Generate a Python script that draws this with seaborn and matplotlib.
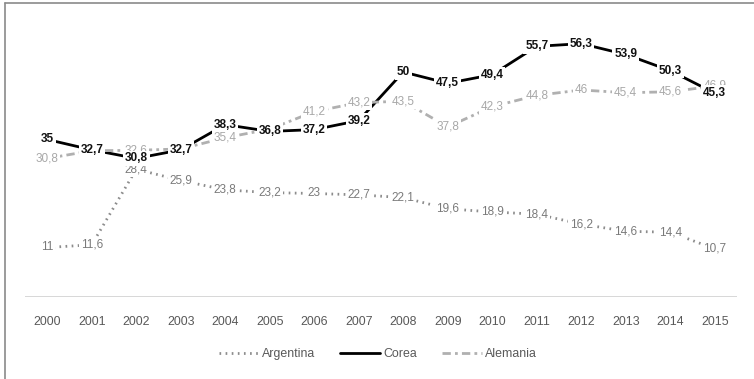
import numpy as np
import pandas as pd
import matplotlib
matplotlib.use("Agg")
import matplotlib.pyplot as plt
import seaborn as sns
from matplotlib.lines import Line2D
from matplotlib import font_manager

years = [2000, 2001, 2002, 2003, 2004, 2005, 2006, 2007, 2008, 2009, 2010, 2011, 2012, 2013, 2014, 2015]
argentina = [11, 11.6, 28.4, 25.9, 23.8, 23.2, 23, 22.7, 22.1, 19.6, 18.9, 18.4, 16.2, 14.6, 14.4, 10.7]
corea = [35, 32.7, 30.8, 32.7, 38.3, 36.8, 37.2, 39.2, 50, 47.5, 49.4, 55.7, 56.3, 53.9, 50.3, 45.3]
alemania = [30.8, 32.5, 32.6, 32.9, 35.4, 37.3, 41.2, 43.2, 43.5, 37.8, 42.3, 44.8, 46, 45.4, 45.6, 46.9]
series_names = ["Argentina", "Corea", "Alemania"]

sns.set_style("white")
installed = {f.name for f in font_manager.fontManager.ttflist}
narrow = "Liberation Sans Narrow" in installed
fam = "Liberation Sans Narrow" if narrow else "Liberation Sans"
plt.rcParams['font.family'] = [fam, 'DejaVu Sans']
scale = 1.0 if narrow else 0.85

df = pd.DataFrame({
    "pos": list(range(len(years))) * 3,
    "year": years * 3,
    "value": argentina + corea + alemania,
    "serie": [s for s in series_names for _ in years],
})

colors = {"Argentina": "#8c8c8c", "Corea": "#000000", "Alemania": "#b0b0b0"}
dashes = {"Argentina": (0.6, 1.6), "Corea": "", "Alemania": (3, 1.5, 1, 1.5)}
label_colors = {"Argentina": "#7a7a7a", "Corea": "#111111", "Alemania": "#a8a8a8"}

fig = plt.figure(figsize=(7.54, 3.79), dpi=100)
W, H = 754, 379
ax = fig.add_axes([25 / W, (H - 297) / H, 712 / W, 270 / H])

sns.lineplot(data=df, x="pos", y="value", hue="serie", style="serie",
             palette=colors, dashes=dashes, linewidth=2, ax=ax, legend=False,
             zorder=2)

ax.set_xlim(-0.5, len(years) - 0.5)
ax.set_ylim(0, 60)
for s in ax.spines.values():
    s.set_visible(False)
ax.axhline(0, color="#d4d4d4", lw=1.3, zorder=1)
ax.set_yticks([])
ax.set_xticks(range(len(years)))
ax.set_xticklabels([str(y) for y in years], fontsize=10.5 * scale, color="#595959")
ax.tick_params(axis="x", length=0, pad=14)
ax.set_xlabel("")
ax.set_ylabel("")

def fmt(v):
    return (f"{v:g}").replace(".", ",")

zo = {"Argentina": 4, "Alemania": 5, "Corea": 6}
for name, vals in zip(series_names, [argentina, corea, alemania]):
    for i, v in enumerate(vals):
        ax.text(i, v, fmt(v), ha="center", va="center", fontsize=10 * scale,
                color=label_colors[name],
                fontweight="bold" if name == "Corea" else "normal",
                bbox=dict(boxstyle="square,pad=0.15", fc="white", ec="none"),
                zorder=zo[name])

handles = [
    Line2D([], [], color=colors["Argentina"], lw=2, dashes=(0.6, 1.6)),
    Line2D([], [], color=colors["Corea"], lw=2),
    Line2D([], [], color=colors["Alemania"], lw=2, dashes=(3, 1.5, 1, 1.5)),
]
fig.legend(handles, series_names, loc="center", bbox_to_anchor=(378 / W, 1 - 354 / H),
           ncol=3, frameon=False, fontsize=10.5 * scale, handlelength=3.2, columnspacing=2.0,
           handletextpad=0.3, labelcolor="#595959")

# outer frame (left and top)
fig.add_artist(Line2D([5 / W, 5 / W], [0, 1 - 3 / H], transform=fig.transFigure,
                      color="#8a8a8a", lw=1.2))
fig.add_artist(Line2D([5 / W, 1], [1 - 3 / H, 1 - 3 / H], transform=fig.transFigure,
                      color="#8a8a8a", lw=1.2))

fig.savefig("out.png", dpi=100)
